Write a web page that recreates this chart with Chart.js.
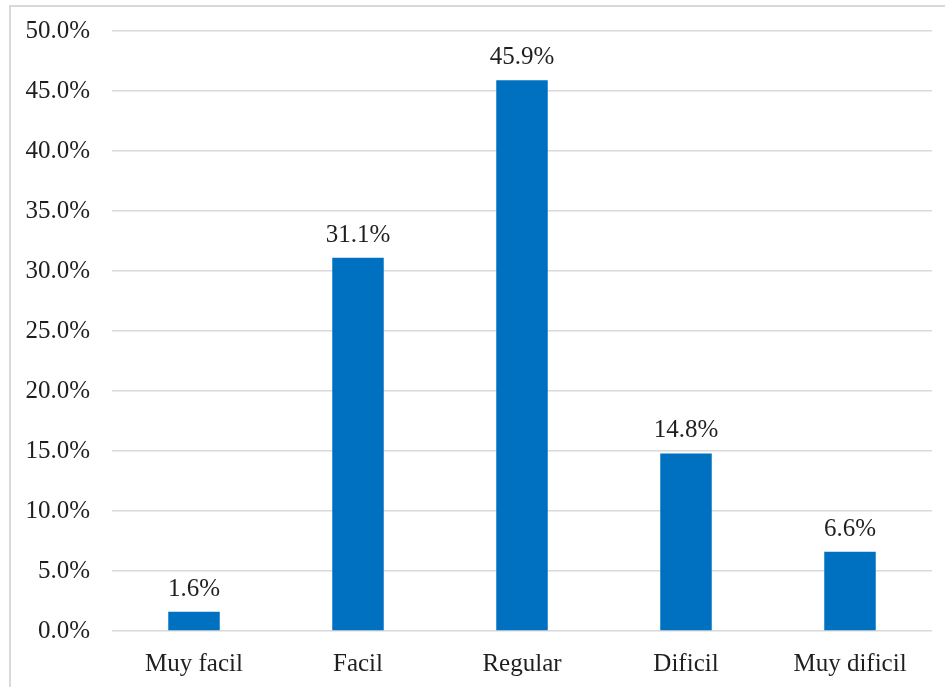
<!DOCTYPE html>
<html>
<head>
<meta charset="utf-8">
<script src="https://cdn.jsdelivr.net/npm/chart.js@4/dist/chart.umd.min.js"></script>
<style>
  html, body { margin: 0; padding: 0; background: #fff; }
  #wrap { width: 945px; height: 687px; position: relative; }
</style>
</head>
<body>
<div id="wrap"><canvas id="chart" width="945" height="687"></canvas></div>
<script>
const categories = ["Muy facil", "Facil", "Regular", "Dificil", "Muy dificil"];
const percents = [1.6, 31.1, 45.9, 14.8, 6.6];
const yTicks = [0, 5, 10, 15, 20, 25, 30, 35, 40, 45, 50];

const FONT = "Liberation Serif";
const TEXT = "#1f1f1f";

// light frame round the chart
const framePlugin = {
  id: "frame",
  beforeDraw(chart) {
    const ctx = chart.ctx;
    ctx.save();
    ctx.strokeStyle = "#d9d9d9";
    ctx.lineWidth = 2;
    ctx.strokeRect(10, 6, 1000, 800);
    ctx.restore();
  }
};

// percentage written over each bar
const valueLabels = {
  id: "valueLabels",
  afterDatasetsDraw(chart) {
    const ctx = chart.ctx;
    const meta = chart.getDatasetMeta(0);
    ctx.save();
    ctx.font = "25px " + FONT;
    ctx.fillStyle = TEXT;
    ctx.textAlign = "center";
    ctx.textBaseline = "alphabetic";
    meta.data.forEach((bar, i) => {
      ctx.fillText(percents[i].toFixed(1) + "%", bar.x, bar.y - 16);
    });
    ctx.restore();
  }
};

new Chart(document.getElementById("chart"), {
  type: "bar",
  data: {
    labels: categories,
    datasets: [{
      data: percents,
      backgroundColor: "#0070c0",
      categoryPercentage: 1,
      barPercentage: 0.314
    }]
  },
  options: {
    responsive: false,
    animation: false,
    layout: { padding: { top: 31, right: 13, left: 0, bottom: 0 } },
    plugins: { legend: { display: false }, tooltip: { enabled: false } },
    scales: {
      x: {
        grid: { display: false },
        border: { display: false },
        ticks: { color: TEXT, font: { family: FONT, size: 25 }, padding: 10, maxRotation: 0 },
        afterFit(scale) { scale.height = 687 - 631; }
      },
      y: {
        min: 0,
        max: 50,
        afterBuildTicks(scale) { scale.ticks = yTicks.map(v => ({ value: v })); },
        grid: { color: "#d9d9d9", lineWidth: 1.5, drawTicks: false },
        border: { display: false },
        ticks: {
          color: TEXT,
          font: { family: FONT, size: 25 },
          padding: 22,
          callback: v => v.toFixed(1) + "%"
        },
        afterFit(scale) {
          scale.width = 112;
          scale.paddingTop = 0;
          scale.paddingBottom = 0;
        }
      }
    }
  },
  plugins: [framePlugin, valueLabels]
});
</script>
</body>
</html>
